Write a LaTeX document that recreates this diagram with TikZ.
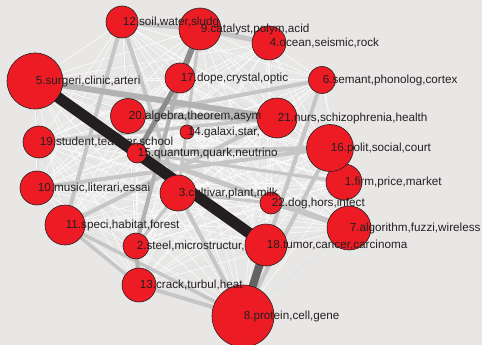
\documentclass[tikz,border=0pt]{standalone}
\usepackage{fontspec}
\setmainfont{Liberation Sans}
\definecolor{paperbg}{RGB}{232,231,230}
\definecolor{bubred}{RGB}{237,28,36}
\definecolor{ink}{RGB}{35,31,32}
\pgfdeclarelayer{paper}
\pgfdeclarelayer{web}
\pgfdeclarelayer{links}
\pgfsetlayers{paper,web,links,main}
\begin{document}
\begin{tikzpicture}[x=1pt,y=-1pt,
  bub/.style={circle,draw=ink,line width=0.6pt,fill=bubred,inner sep=0pt,minimum size=#1},
  lab/.style={anchor=base west,inner sep=0pt,text=ink,font=\fontsize{11.7}{12}\selectfont,xshift=0.6pt,yshift=-3.7pt},
  webline/.style={draw=white,line width=0.7pt,opacity=0.75},
  faint/.style={draw={rgb,255:red,214;green,214;blue,214},line width=1.8pt},
  lite/.style={draw={rgb,255:red,198;green,198;blue,198},line width=#1},
  mid/.style={draw={rgb,255:red,178;green,178;blue,178},line width=#1},
  darkish/.style={draw={rgb,255:red,140;green,140;blue,140},line width=#1},
  heavy/.style={draw={rgb,255:red,99;green,99;blue,99},line width=8pt},
  heaviest/.style={draw=ink,line width=11pt}
]
\useasboundingbox (0,0) rectangle (482,345);
\begin{pgfonlayer}{paper}
  \fill[paperbg] (0,0) rectangle (482,345);
\end{pgfonlayer}

% topic bubbles
\node[bub=36pt] (n1) at (344,182) {};
\node[bub=26pt] (n2) at (136,246) {};
\node[bub=36pt] (n3) at (178,193) {};
\node[bub=34pt] (n4) at (269,43) {};
\node[bub=56pt] (n5) at (35,81) {};
\node[bub=27pt] (n6) at (322,80) {};
\node[bub=44pt] (n7) at (349,228) {};
\node[bub=62pt] (n8) at (243,316) {};
\node[bub=42pt] (n9) at (200,29) {};
\node[bub=34pt] (n10) at (37,188) {};
\node[bub=40pt] (n11) at (65,225) {};
\node[bub=32pt] (n12) at (122,22) {};
\node[bub=34pt] (n13) at (139,285) {};
\node[bub=14pt] (n14) at (187,132) {};
\node[bub=20pt] (n15) at (137,153) {};
\node[bub=47pt] (n16) at (330,148) {};
\node[bub=30pt] (n17) at (180,78) {};
\node[bub=42pt] (n18) at (266,245) {};
\node[bub=32pt] (n19) at (39,142) {};
\node[bub=35pt] (n20) at (128,116) {};
\node[bub=40pt] (n21) at (277,118) {};
\node[bub=22pt] (n22) at (271,203) {};

% thin web between every pair of topics
\begin{pgfonlayer}{web}
  \foreach \a/\b in {5/20,5/15,5/3,19/20,19/15,10/3,10/15,11/3,11/2,12/20,12/17,
    12/15,9/20,9/21,9/14,4/17,4/21,4/14,4/16,6/21,6/16,6/14,21/16,21/1,21/22,
    16/1,16/22,1/7,1/18,7/18,22/18,14/16,14/21,3/18,2/18,13/18,20/15,20/3,
    17/21,17/14,15/3,14/3,2/8,22/8,7/8,10/19,10/11,19/11,5/19,20/2,14/18,
    15/22,17/16,9/18,4/13,14/8,20/13,19/3,10/2,5/14,12/14}
    \draw[faint] (n\a.center) -- (n\b.center);
  \foreach \i in {1,...,22}{
    \foreach \j in {1,...,22}{
      \ifnum\i<\j
        \draw[webline] (n\i.center) -- (n\j.center);
      \fi
    }
  }
\end{pgfonlayer}

% weighted links
\begin{pgfonlayer}{links}
  \foreach \a/\b/\w in {15/1/3pt,3/22/3pt,9/3/3pt,3/2/3pt,19/21/3.5pt,
    10/16/4pt,11/21/4pt,11/13/3.5pt,11/8/3.5pt,12/11/4pt,12/3/4pt,6/8/4pt,
    16/8/4pt,3/8/4pt,13/8/4pt,6/20/4pt,15/16/5pt,15/7/5pt,22/7/4pt,
    12/9/5pt,9/4/5pt}
    \draw[lite=\w] (n\a.center) -- (n\b.center);
  \draw[mid=6pt] (n5.center) -- (n21.center);
  \draw[mid=6pt] (n20.center) -- (n21.center);
  \draw[mid=4pt] (n2.center) -- (n13.center);
  \draw[mid=4pt] (n2.center) -- (n17.center);
  \draw[darkish=6pt] (n9.center) -- (n17.center);
  \draw[darkish=5pt] (n17.center) -- (n15.center);
  \draw[heavy] (n18.center) -- (n8.center);
  \draw[heaviest] (n5.center) -- (n18.center);
\end{pgfonlayer}

% topic labels
\node[lab] (t1) at (n1.center) {1.firm,price,market};
\node[lab] (t2) at (n2.center) {2.steel,microstructur,};
\node[lab] (t3) at (n3.center) {3.cultivar,plant,milk};
\node[lab] (t4) at (n4.center) {4.ocean,seismic,rock};
\node[lab] (t5) at (n5.center) {5.surgeri,clinic,arteri};
\node[lab] (t6) at (n6.center) {6.semant,phonolog,cortex};
\node[lab] (t7) at (n7.center) {7.algorithm,fuzzi,wireless};
\node[lab] (t8) at (n8.center) {8.protein,cell,gene};
\node[lab] (t9) at (n9.center) {9.catalyst,polym,acid};
\node[lab] (t10) at (n10.center) {10.music,literari,essai};
\node[lab] (t11) at (n11.center) {11.speci,habitat,forest};
\node[lab] (t12) at (n12.center) {12.soil,water,sludg};
\node[lab] (t13) at (n13.center) {13.crack,turbul,heat};
\node[lab] (t14) at (n14.center) {14.galaxi,star,};
\node[lab] (t15) at (n15.center) {15.quantum,quark,neutrino};
\node[lab] (t16) at (n16.center) {16.polit,social,court};
\node[lab] (t17) at (n17.center) {17.dope,crystal,optic};
\node[lab] (t18) at (n18.center) {18.tumor,cancer,carcinoma};
\node[lab] (t19) at (n19.center) {19.student,teacher,school};
\node[lab] (t20) at (n20.center) {20.algebra,theorem,asym};
\node[lab] (t21) at (n21.center) {21.nurs,schizophrenia,health};
\node[lab] (t22) at (n22.center) {22.dog,hors,infect};
\end{tikzpicture}
\end{document}
